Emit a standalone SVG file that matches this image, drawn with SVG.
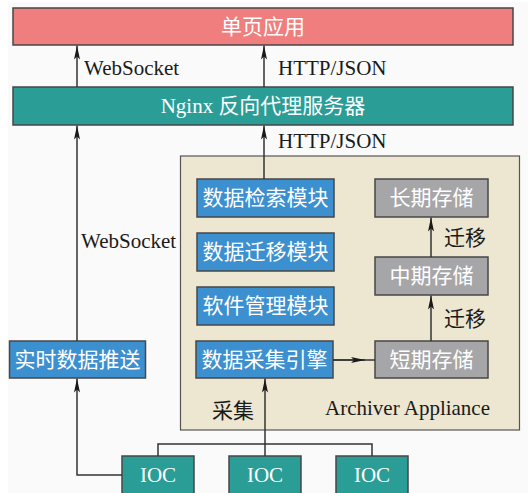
<svg xmlns="http://www.w3.org/2000/svg" width="528" height="493" viewBox="0 0 528 493">
  <defs>
    <marker id="arrow" viewBox="0 0 14 6" refX="14" refY="3" markerWidth="14" markerHeight="6" markerUnits="userSpaceOnUse" orient="auto">
      <path d="M0,0 L14,3 L0,6 L3,3 Z" fill="#1a1a1a"/>
    </marker>
    <style>
      .box { stroke: #474747; stroke-width: 1.5; }
      .pink { fill: #F07E7E; }
      .teal { fill: #2A9D96; }
      .blue { fill: #3C90D0; }
      .gray { fill: #A6A6A8; }
      .panel { fill: #EDE6D1; stroke: #555; stroke-width: 1.2; }
      .zh { font-family: "Noto Sans CJK SC", "Noto Sans", sans-serif; font-size: 21px; fill: #ffffff; text-anchor: middle; }
      .zhl { font-family: "Noto Sans CJK SC", "Noto Sans", sans-serif; font-size: 21px; fill: #1a1a1a; }
      .en { font-family: "Liberation Serif", "Noto Sans CJK SC", serif; font-size: 21px; fill: #1a1a1a; }
      .enw { font-family: "Liberation Serif", serif; font-size: 21px; fill: #ffffff; text-anchor: middle; }
      .line { fill: none; stroke: #333; stroke-width: 1.5; }
    </style>
  </defs>

  <rect x="0" y="0" width="528" height="493" fill="#ffffff"/>
  <rect x="8" y="2" width="520" height="491" fill="#FAFAFA"/>

  <!-- Archiver Appliance container -->
  <g id="archiver">
    <rect class="panel" x="180.5" y="156" width="339" height="274"/>
    <text class="en" x="325" y="415" font-size="21.5">Archiver Appliance</text>
  </g>

  <g id="spa">
    <rect class="box pink" x="13" y="8" width="500" height="37"/>
    <text class="zh" x="263" y="34">单页应用</text>
  </g>

  <g id="nginx">
    <rect class="box teal" x="13" y="87" width="500" height="38"/>
    <text class="zh" x="263" y="113"><tspan font-family="Liberation Serif, serif">Nginx </tspan>反向代理服务器</text>
  </g>

  <g id="retrieval">
    <rect class="box blue" x="197" y="179" width="137" height="38"/>
    <text class="zh" x="265.5" y="205">数据检索模块</text>
  </g>
  <g id="migration">
    <rect class="box blue" x="197" y="233" width="137" height="38"/>
    <text class="zh" x="265.5" y="259">数据迁移模块</text>
  </g>
  <g id="management">
    <rect class="box blue" x="197" y="287" width="137" height="38"/>
    <text class="zh" x="265.5" y="313">软件管理模块</text>
  </g>
  <g id="engine">
    <rect class="box blue" x="196" y="341" width="137" height="37"/>
    <text class="zh" x="264.5" y="367">数据采集引擎</text>
  </g>

  <g id="longterm">
    <rect class="box gray" x="375" y="179" width="113" height="38"/>
    <text class="zh" x="431.5" y="205">长期存储</text>
  </g>
  <g id="midterm">
    <rect class="box gray" x="375" y="257" width="113" height="38"/>
    <text class="zh" x="431.5" y="283">中期存储</text>
  </g>
  <g id="shortterm">
    <rect class="box gray" x="375" y="341" width="113" height="37"/>
    <text class="zh" x="431.5" y="367">短期存储</text>
  </g>

  <g id="realtime">
    <rect class="box blue" x="9.5" y="341" width="136" height="37"/>
    <text class="zh" x="77.5" y="367">实时数据推送</text>
  </g>

  <g id="ioc1">
    <rect class="box teal" x="122" y="456" width="72" height="40"/>
    <text class="enw" x="158" y="482">IOC</text>
  </g>
  <g id="ioc2">
    <rect class="box teal" x="229" y="456" width="72" height="40"/>
    <text class="enw" x="265" y="482">IOC</text>
  </g>
  <g id="ioc3">
    <rect class="box teal" x="336" y="456" width="72" height="40"/>
    <text class="enw" x="372" y="482">IOC</text>
  </g>

  <g id="connectors">
    <!-- Nginx to single-page app -->
    <line class="line" x1="77" y1="87" x2="77" y2="45.5" marker-end="url(#arrow)"/>
    <line class="line" x1="264" y1="87" x2="264" y2="45.5" marker-end="url(#arrow)"/>
    <!-- services to Nginx -->
    <line class="line" x1="77" y1="341" x2="77" y2="125.5" marker-end="url(#arrow)"/>
    <line class="line" x1="264" y1="179" x2="264" y2="125.5" marker-end="url(#arrow)"/>
    <!-- IOC feeds -->
    <polyline class="line" points="122,475 77,475 77,378.5" marker-end="url(#arrow)"/>
    <line class="line" x1="265" y1="456" x2="265" y2="378.5" marker-end="url(#arrow)"/>
    <polyline class="line" points="158,456 158,444 372,444 372,456"/>
    <!-- engine to short-term storage, head placed mid-line -->
    <line class="line" x1="333" y1="360" x2="375" y2="360"/>
    <line class="line" x1="333" y1="360" x2="365" y2="360" marker-end="url(#arrow)"/>
    <!-- storage migration -->
    <line class="line" x1="431" y1="341" x2="431" y2="295.5" marker-end="url(#arrow)"/>
    <line class="line" x1="431" y1="257" x2="431" y2="217.5" marker-end="url(#arrow)"/>
  </g>

  <g id="labels">
    <text class="en" x="84" y="75">WebSocket</text>
    <text class="en" x="278" y="75">HTTP/JSON</text>
    <text class="en" x="278" y="148">HTTP/JSON</text>
    <text class="en" x="81" y="248">WebSocket</text>
    <text class="zhl" x="444" y="245">迁移</text>
    <text class="zhl" x="444" y="326">迁移</text>
    <text class="zhl" x="212" y="418">采集</text>
  </g>
</svg>
